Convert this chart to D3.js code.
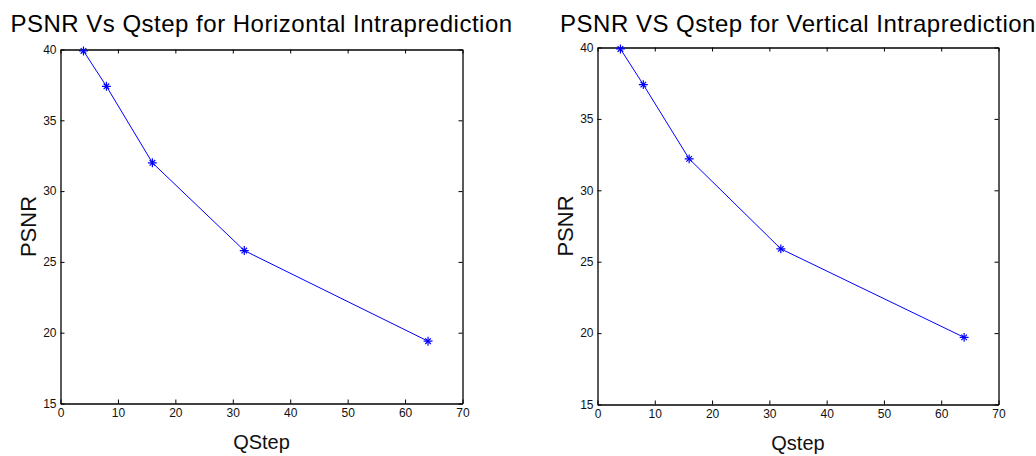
<!DOCTYPE html>
<html>
<head>
<meta charset="utf-8">
<script src="https://cdn.jsdelivr.net/npm/d3@7.9.0/dist/d3.min.js"></script>
<style>
  body { margin: 0; background: #fff; }
  svg { display: block; font-family: "Liberation Sans", Arial, Helvetica, sans-serif; }
</style>
</head>
<body>
<svg id="chart" width="1036" height="456"></svg>
<script>
// Data
const qstep = [4, 8, 16, 32, 64];
const psnrHorizontal = [39.9, 37.4, 32.0, 25.8, 19.4];
const psnrVertical = [39.9, 37.4, 32.2, 25.9, 19.7];
const xTicks = [0, 10, 20, 30, 40, 50, 60, 70];
const yTicks = [15, 20, 25, 30, 35, 40];

const svg = d3.select("#chart");

// Panel settings (plot box in page pixels)
const panels = [
    { title: "PSNR Vs Qstep for Horizontal Intraprediction", xLabel: "QStep",
      values: psnrHorizontal, left: 60.5, right: 462.5, top: 49.5, bottom: 403.5 },
    { title: "PSNR VS Qstep for Vertical Intraprediction", xLabel: "Qstep",
      values: psnrVertical, left: 597.5, right: 998.5, top: 47.5, bottom: 404.5 }
];

function drawPanel(p) {
    const g = svg.append("g");

    const x = d3.scaleLinear().domain([0, 70]).range([p.left, p.right]);
    const y = d3.scaleLinear().domain([15, 40]).range([p.bottom, p.top]);

    // Title
    g.append("text")
        .attr("x", (p.left + p.right) / 2)
        .attr("y", 32)
        .attr("text-anchor", "middle")
        .style("font-size", "24px")
        .style("letter-spacing", "0.5px")
        .style("fill", "#000")
        .text(p.title);

    // Axes, ticks pointing inward
    const bottom = g.append("g")
        .attr("transform", `translate(0,${p.bottom})`)
        .call(d3.axisBottom(x).tickValues(xTicks).tickSizeInner(-4).tickSizeOuter(0).tickPadding(5));
    const leftAx = g.append("g")
        .attr("transform", `translate(${p.left},0)`)
        .call(d3.axisLeft(y).tickValues(yTicks).tickSizeInner(-4).tickSizeOuter(0).tickPadding(4));
    const topAx = g.append("g")
        .attr("transform", `translate(0,${p.top})`)
        .call(d3.axisTop(x).tickValues(xTicks).tickSizeInner(-4).tickSizeOuter(0).tickFormat(""));
    const rightAx = g.append("g")
        .attr("transform", `translate(${p.right},0)`)
        .call(d3.axisRight(y).tickValues(yTicks).tickSizeInner(-4).tickSizeOuter(0).tickFormat(""));

    [bottom, leftAx, topAx, rightAx].forEach(a => {
        a.select(".domain").attr("stroke", "#000").attr("stroke-width", 1.3);
        a.selectAll(".tick line").attr("stroke", "#000");
        a.selectAll(".tick text")
            .style("font-family", "'Liberation Sans', Arial, sans-serif")
            .style("font-size", "12px")
            .attr("fill", "#111");
    });

    // Line
    const line = d3.line()
        .x((d, i) => x(qstep[i]))
        .y(d => y(d));

    g.append("path")
        .datum(p.values)
        .attr("fill", "none")
        .attr("stroke", "#0000ff")
        .attr("stroke-width", 1)
        .attr("d", line);

    // Asterisk markers (plus + times)
    const markers = g.selectAll(".marker")
        .data(p.values)
        .enter()
        .append("g")
        .attr("class", "marker")
        .attr("transform", (d, i) => `translate(${x(qstep[i])},${y(d)})`);

    markers.append("path")
        .attr("d", d3.symbol().type(d3.symbolPlus).size(28)())
        .attr("fill", "none")
        .attr("stroke", "#0000ff")
        .attr("stroke-width", 1.2);
    markers.append("path")
        .attr("d", d3.symbol().type(d3.symbolTimes).size(22)())
        .attr("fill", "none")
        .attr("stroke", "#0000ff")
        .attr("stroke-width", 1.2);

    // X label
    g.append("text")
        .attr("x", (p.left + p.right) / 2)
        .attr("y", p.bottom + 45)
        .attr("text-anchor", "middle")
        .style("font-size", "20px")
        .style("fill", "#111")
        .text(p.xLabel);

    // Y label
    g.append("text")
        .attr("transform", `translate(${p.left - 25},${(p.top + p.bottom) / 2}) rotate(-90)`)
        .attr("text-anchor", "middle")
        .style("font-size", "22px")
        .style("fill", "#111")
        .text("PSNR");
}

panels.forEach(drawPanel);
</script>
</body>
</html>
